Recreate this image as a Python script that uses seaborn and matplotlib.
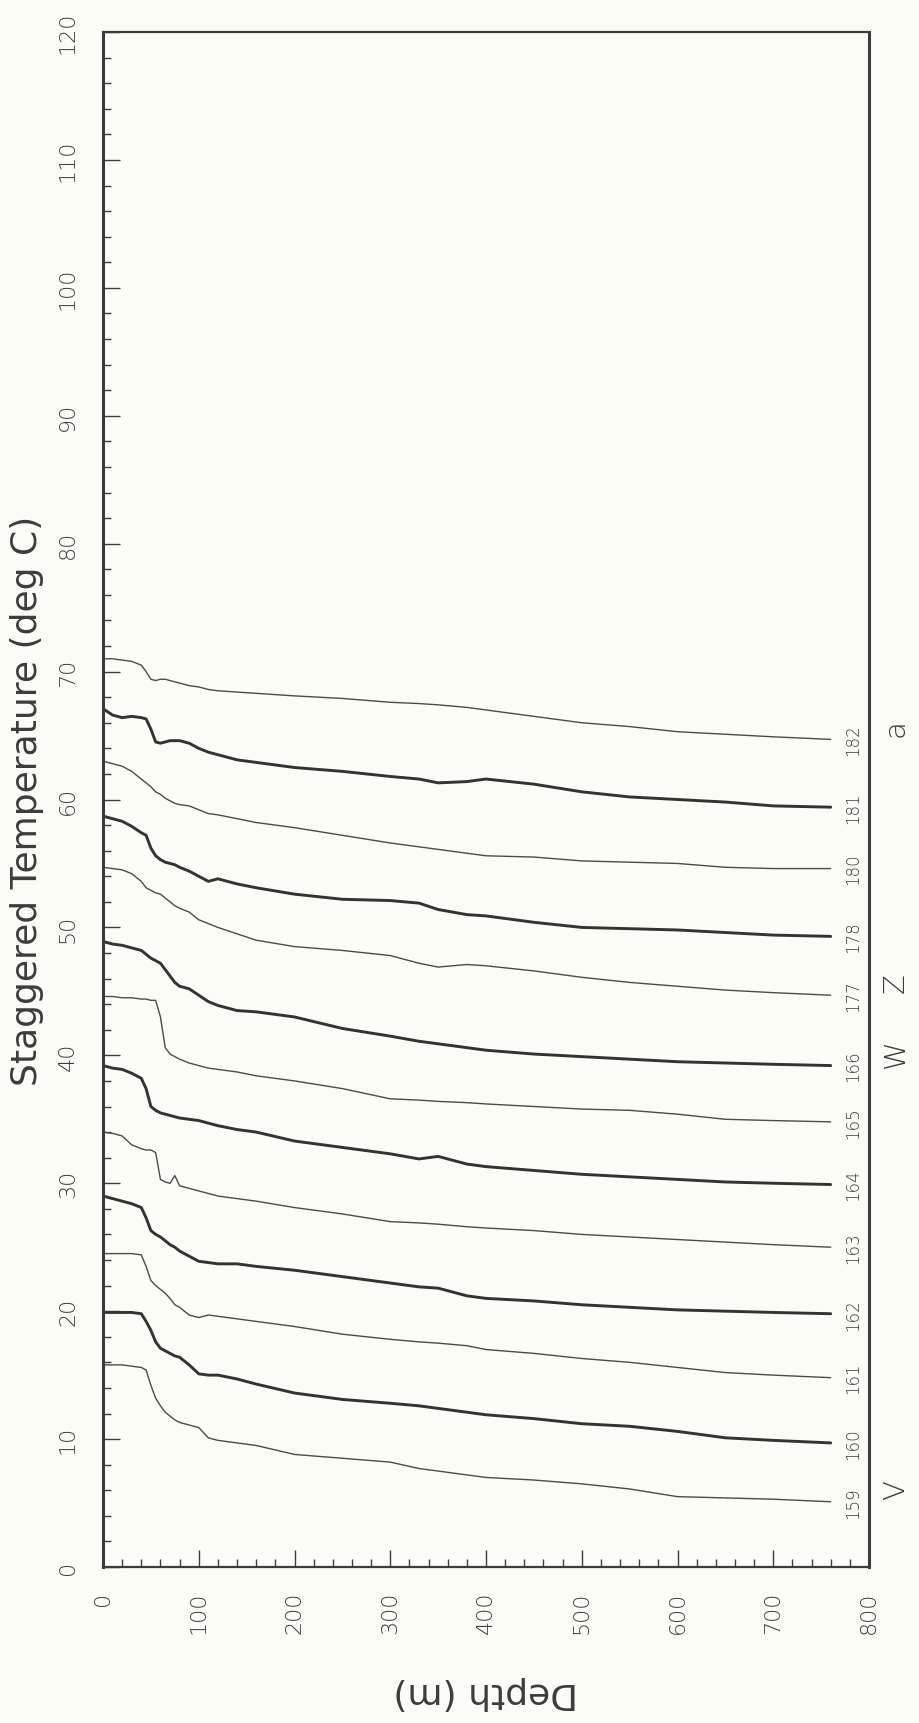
import matplotlib
matplotlib.use("Agg")
import matplotlib.pyplot as plt
import seaborn as sns
import pandas as pd
from matplotlib.ticker import MultipleLocator

# depth grid shared by all casts (m)
depth_m = [0, 10, 20, 30, 40, 45, 50, 55, 60, 65, 70, 75, 80, 90, 100, 110, 120,
           140, 160, 200, 250, 300, 330, 350, 380, 400, 450, 500, 550, 600, 650, 700, 760]

# staggered temperature of each cast (deg C)
cast_159 = [15.8, 15.8, 15.8, 15.7, 15.6, 15.4, 14.2, 13.2, 12.6, 12.1, 11.8, 11.5, 11.3, 11.1, 10.9, 10.1, 9.9,
            9.7, 9.5, 8.8, 8.5, 8.2, 7.7, 7.5, 7.2, 7.0, 6.8, 6.5, 6.1, 5.5, 5.4, 5.3, 5.1]
cast_160 = [19.9, 19.9, 19.9, 19.9, 19.8, 19.2, 18.5, 17.6, 17.1, 16.9, 16.7, 16.5, 16.4, 15.8, 15.1, 15.0, 15.0,
            14.7, 14.3, 13.6, 13.1, 12.8, 12.6, 12.4, 12.1, 11.9, 11.6, 11.2, 11.0, 10.6, 10.1, 9.9, 9.7]
cast_161 = [24.5, 24.5, 24.5, 24.5, 24.4, 23.5, 22.4, 22.0, 21.7, 21.4, 21.0, 20.5, 20.3, 19.7, 19.5, 19.7, 19.6,
            19.4, 19.2, 18.8, 18.2, 17.8, 17.6, 17.5, 17.3, 17.0, 16.7, 16.3, 16.0, 15.6, 15.2, 15.0, 14.8]
cast_162 = [29.0, 28.8, 28.6, 28.4, 28.1, 27.3, 26.3, 26.0, 25.8, 25.5, 25.2, 25.0, 24.7, 24.3, 23.9, 23.8, 23.7,
            23.7, 23.5, 23.2, 22.7, 22.2, 21.9, 21.8, 21.2, 21.0, 20.8, 20.5, 20.3, 20.1, 20.0, 19.9, 19.8]
cast_163 = [34.0, 33.9, 33.7, 33.0, 32.7, 32.6, 32.6, 32.4, 30.3, 30.1, 30.0, 30.6, 29.8, 29.6, 29.4, 29.2, 29.0,
            28.8, 28.6, 28.1, 27.6, 27.0, 26.9, 26.8, 26.6, 26.5, 26.3, 26.0, 25.8, 25.6, 25.4, 25.2, 25.0]
cast_164 = [39.2, 39.0, 38.9, 38.6, 38.2, 37.4, 36.0, 35.7, 35.5, 35.4, 35.3, 35.2, 35.1, 35.0, 34.9, 34.7, 34.5,
            34.2, 34.0, 33.3, 32.8, 32.3, 31.9, 32.1, 31.5, 31.3, 31.0, 30.7, 30.5, 30.3, 30.1, 30.0, 29.9]
cast_165 = [44.6, 44.6, 44.5, 44.5, 44.4, 44.4, 44.3, 44.3, 43.0, 40.6, 40.1, 39.9, 39.7, 39.4, 39.2, 39.0, 38.9,
            38.7, 38.4, 38.0, 37.4, 36.6, 36.5, 36.4, 36.3, 36.2, 36.0, 35.8, 35.7, 35.4, 35.0, 34.9, 34.8]
cast_166 = [48.9, 48.7, 48.6, 48.4, 48.2, 47.9, 47.6, 47.4, 47.2, 46.7, 46.2, 45.7, 45.4, 45.2, 44.7, 44.2, 43.9,
            43.5, 43.4, 43.0, 42.1, 41.5, 41.1, 40.9, 40.6, 40.4, 40.1, 39.9, 39.7, 39.5, 39.4, 39.3, 39.2]
cast_177 = [54.7, 54.6, 54.5, 54.2, 53.6, 53.1, 52.9, 52.7, 52.6, 52.3, 52.0, 51.7, 51.5, 51.2, 50.6, 50.3, 50.0,
            49.5, 49.0, 48.5, 48.2, 47.8, 47.2, 46.9, 47.1, 47.0, 46.6, 46.1, 45.7, 45.4, 45.1, 44.9, 44.7]
cast_178 = [58.7, 58.5, 58.3, 57.9, 57.4, 57.2, 56.2, 55.6, 55.3, 55.1, 55.0, 54.9, 54.7, 54.4, 54.0, 53.6, 53.8,
            53.4, 53.1, 52.6, 52.2, 52.1, 51.9, 51.4, 51.0, 50.9, 50.4, 50.0, 49.9, 49.8, 49.6, 49.4, 49.3]
cast_180 = [63.0, 62.8, 62.6, 62.2, 61.6, 61.3, 61.0, 60.6, 60.4, 60.1, 59.9, 59.7, 59.6, 59.5, 59.2, 58.9, 58.8,
            58.5, 58.2, 57.8, 57.2, 56.6, 56.3, 56.1, 55.8, 55.6, 55.5, 55.2, 55.1, 55.0, 54.7, 54.6, 54.6]
cast_181 = [67.1, 66.6, 66.4, 66.5, 66.4, 66.3, 65.5, 64.5, 64.4, 64.5, 64.6, 64.6, 64.6, 64.4, 64.0, 63.7, 63.5,
            63.1, 62.9, 62.5, 62.2, 61.8, 61.6, 61.3, 61.4, 61.6, 61.2, 60.6, 60.2, 60.0, 59.8, 59.5, 59.4]
cast_182 = [71.0, 71.0, 70.9, 70.8, 70.5, 70.0, 69.4, 69.3, 69.4, 69.4, 69.3, 69.2, 69.1, 68.9, 68.8, 68.6, 68.5,
            68.4, 68.3, 68.1, 67.9, 67.6, 67.5, 67.4, 67.2, 67.0, 66.5, 66.0, 65.7, 65.3, 65.1, 64.9, 64.7]

cast_ids = ["159", "160", "161", "162", "163", "164", "165", "166", "177", "178", "180", "181", "182"]
cast_temps = [cast_159, cast_160, cast_161, cast_162, cast_163, cast_164, cast_165,
              cast_166, cast_177, cast_178, cast_180, cast_181, cast_182]

# letters printed beside some casts, outside the frame
mark_letters = ["V", "W", "Z", "a"]
mark_casts = ["159", "166", "177", "182"]

ink = "#3c3c3c"
paper = "#fcfcf7"

sns.set_style("ticks")
plt.rcParams["font.family"] = ["DejaVu Sans"]
plt.rcParams["font.weight"] = "light"

fig = plt.figure(figsize=(9.19, 17.24), dpi=100, facecolor=paper)
ax = fig.add_axes([103 / 919, 156 / 1724, 766 / 919, 1535 / 1724])
ax.set_facecolor(paper)

rows = []
for i, (cid, temps) in enumerate(zip(cast_ids, cast_temps)):
    for d, t in zip(depth_m, temps):
        rows.append({"depth": d, "temp": t, "cast": cid, "heavy": i % 2 == 1})
df = pd.DataFrame(rows)

for cid, grp in df.groupby("cast"):
    heavy = grp["heavy"].iloc[0]
    sns.lineplot(data=grp, x="depth", y="temp", color="#333333" if heavy else "#4a4a4a",
                 linewidth=2.1 if heavy else 1.0, estimator=None, sort=False, ax=ax)
    end_t = grp["temp"].iloc[-1]
    ax.text(783, end_t, cid, rotation=90, ha="center", va="center",
            fontsize=12, color=ink)
    if cid in mark_casts:
        letter = mark_letters[mark_casts.index(cid)]
        ax.text(828, end_t + 1.0, letter, rotation=90, ha="center", va="center",
                fontsize=21, color=ink, clip_on=False)

ax.set_xlim(0, 800)
ax.set_ylim(0, 120)
ax.xaxis.set_major_locator(MultipleLocator(100))
ax.xaxis.set_minor_locator(MultipleLocator(20))
ax.yaxis.set_major_locator(MultipleLocator(10))
ax.yaxis.set_minor_locator(MultipleLocator(2))
ax.tick_params(which="both", direction="in", color=ink, width=1.0,
               top=False, right=False, labelcolor=ink)
ax.tick_params(which="major", length=12)
ax.tick_params(which="minor", length=6)
ax.tick_params(axis="x", labelrotation=90, labelsize=16, pad=17)
ax.tick_params(axis="y", labelrotation=90, labelsize=16, pad=18)
for lab in ax.get_yticklabels():
    lab.set_va("center")

for side in ["left", "right"]:
    ax.spines[side].set_linewidth(2.2)
for side in ["top", "bottom"]:
    ax.spines[side].set_linewidth(1.6)
for sp in ax.spines.values():
    sp.set_color(ink)
    sp.set_visible(True)

ax.set_xlabel("Depth (m)", fontsize=26, rotation=180, labelpad=30, color=ink)
ax.set_ylabel("Staggered Temperature (deg C)", fontsize=26, labelpad=10, color=ink)

fig.savefig("out.png", dpi=100, facecolor=paper)
